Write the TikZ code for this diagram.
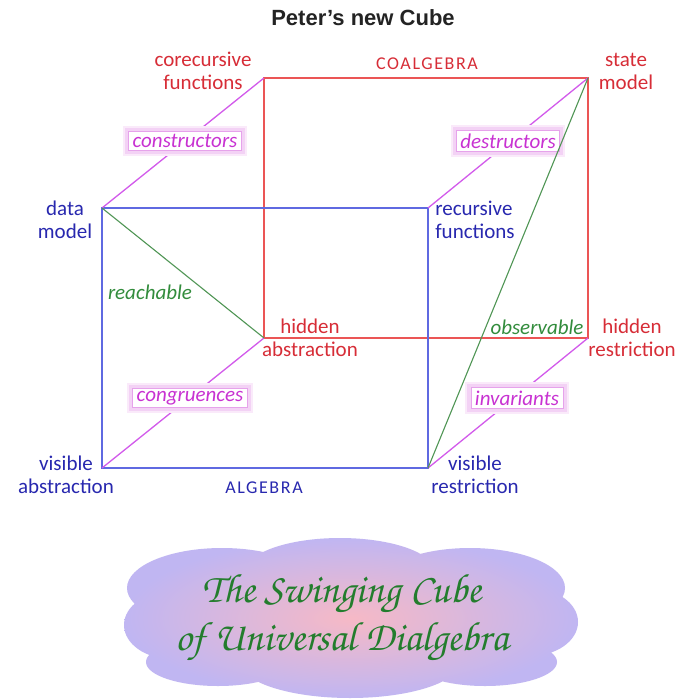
\documentclass[tikz,border=0pt]{standalone}
\usepackage{fontspec}
\setmainfont{Carlito}
\newfontfamily\titlefont{Liberation Sans}
\newfontfamily\chorusfont{texgyrechorus-mediumitalic.otf}
\definecolor{cred}{RGB}{215,45,55}
\definecolor{lred}{RGB}{235,85,85}
\definecolor{cblue}{RGB}{40,40,175}
\definecolor{lblue}{RGB}{95,105,225}
\definecolor{cmag}{RGB}{200,50,210}
\definecolor{lmag}{RGB}{210,90,235}
\definecolor{cgreen}{RGB}{50,140,60}
\definecolor{lgreen}{RGB}{80,150,85}
\definecolor{cscript}{RGB}{35,125,45}
\definecolor{cpink}{RGB}{246,185,198}
\definecolor{clav}{RGB}{192,182,242}
\definecolor{ctitle}{RGB}{35,35,35}
\tikzset{
  lbl/.style={font=\fontsize{21}{23}\selectfont, align=center, inner sep=0pt},
  redlbl/.style={lbl, text=cred},
  bluelbl/.style={lbl, text=cblue},
  greenlbl/.style={lbl, text=cgreen, font=\fontsize{21}{23}\selectfont\itshape},
  caps/.style={inner sep=0pt, font=\fontsize{18}{20}\selectfont\addfontfeatures{LetterSpace=9}},
  glowbox/.style={font=\fontsize{21}{23}\selectfont\itshape, text=cmag, fill=white,
    draw=cmag!45, line width=0.8pt, inner xsep=4pt, inner ysep=3pt,
    preaction={draw=cmag!10, line width=11pt},
    preaction={draw=cmag!22, line width=7pt}},
  redline/.style={draw=lred, line width=1.3pt},
  blueline/.style={draw=lblue, line width=1.3pt},
  magline/.style={draw=lmag, line width=1.3pt},
  greenline/.style={draw=lgreen, line width=1.1pt}
}
\begin{document}
\begin{tikzpicture}[x=1pt, y=-1pt]
\useasboundingbox[fill=white] (0,0) rectangle (680,700);
% cloud
\shade[inner color=cpink, outer color=clav]
  (350,620) ellipse [x radius=195pt, y radius=58pt]
  (340,572) ellipse [x radius=95pt, y radius=34pt]
  (222,588) ellipse [x radius=95pt, y radius=40pt]
  (470,588) ellipse [x radius=95pt, y radius=40pt]
  (172,625) ellipse [x radius=48pt, y radius=34pt]
  (530,622) ellipse [x radius=48pt, y radius=34pt]
  (350,662) ellipse [x radius=110pt, y radius=36pt]
  (218,662) ellipse [x radius=72pt, y radius=24pt]
  (485,662) ellipse [x radius=72pt, y radius=24pt];
\node[text=cscript, font=\chorusfont\fontsize{41}{48}\selectfont, align=center, inner sep=0pt] (title2) at (342,618)
  {The Swinging Cube\\of Universal Dialgebra};
% corners
\coordinate (cf) at (264,78);
\coordinate (sm) at (588,78);
\coordinate (ha) at (264,338);
\coordinate (hr) at (588,338);
\coordinate (dm) at (102,208);
\coordinate (rf) at (428,208);
\coordinate (va) at (102,468);
\coordinate (vr) at (428,468);
% back face
\draw[redline] (cf) -- (sm) -- (hr) -- (ha) -- cycle;
% front face
\draw[blueline] (dm) -- (rf) -- (vr) -- (va) -- cycle;
% diagonals
\draw[magline] (dm) -- (cf);
\draw[magline] (rf) -- (sm);
\draw[magline] (va) -- (ha);
\draw[magline] (vr) -- (hr);
% boxes
\node[glowbox] (cons) at (185,141) {constructors};
\node[glowbox] (dest) at (508,141) {destructors};
\node[glowbox] (cong) at (190,398) {congruences};
\node[glowbox] (inv) at (517,398) {invariants};
% green
\draw[greenline] (dm) -- (ha);
\draw[greenline] (vr) -- (sm);
% labels
\node[font=\titlefont\bfseries\fontsize{22}{26}\selectfont, text=ctitle] (title) at (363,18) {Peter’s new Cube};
\node[redlbl] (lcf) at (203,71) {corecursive\\functions};
\node[caps, text=cred] (coal) at (427,64) {COALGEBRA};
\node[redlbl] (lsm) at (626,71) {state\\model};
\node[bluelbl] (ldm) at (65,220) {data\\model};
\node[bluelbl, align=left] (lrf) at (475,220) {recursive\\functions};
\node[greenlbl] (reach) at (150,292) {reachable};
\node[redlbl] (lha) at (310,338) {hidden\\abstraction};
\node[greenlbl] (obs) at (537,327) {observable};
\node[redlbl] (lhr) at (632,338) {hidden\\restriction};
\node[bluelbl] (lva) at (66,475) {visible\\abstraction};
\node[caps, text=cblue] (alg) at (264,488) {ALGEBRA};
\node[bluelbl] (lvr) at (475,475) {visible\\restriction};
\end{tikzpicture}
\end{document}
